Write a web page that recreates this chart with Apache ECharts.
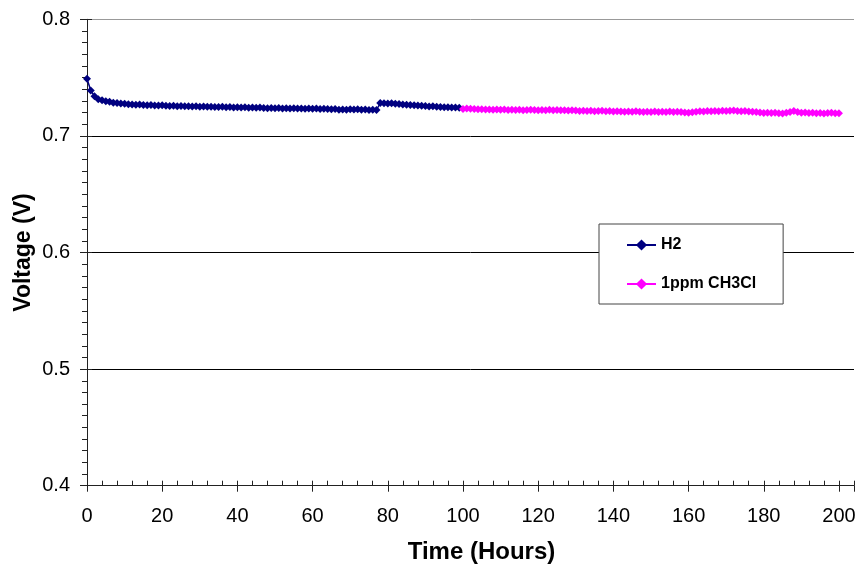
<!DOCTYPE html>
<html>
<head>
<meta charset="utf-8">
<script src="https://cdn.jsdelivr.net/npm/echarts@6/dist/echarts.min.js"></script>
<style>
html,body{margin:0;padding:0;background:#fff;}
#chart{width:858px;height:566px;}
</style>
</head>
<body>
<div id="chart"></div>
<script>
// ---- Data ----
var h2Hours = [0,1,2,3,4,5,6,7,8,9,10,11,12,13,14,15,16,17,18,19,20,21,22,23,24,25,26,27,28,29,30,31,32,33,34,35,36,37,38,39,40,41,42,43,44,45,46,47,48,49,50,51,52,53,54,55,56,57,58,59,60,61,62,63,64,65,66,67,68,69,70,71,72,73,74,75,76,77,78,79,80,81,82,83,84,85,86,87,88,89,90,91,92,93,94,95,96,97,98,99];
var h2Volts = [0.7490,0.7390,0.7340,0.7315,0.7305,0.7297,0.7292,0.7285,0.7282,0.7278,
               0.7276,0.7272,0.7270,0.7268,0.7269,0.7265,0.7263,0.7264,0.7261,0.7260,
               0.7262,0.7258,0.7257,0.7259,0.7255,0.7256,0.7254,0.7255,0.7252,0.7254,
               0.7251,0.7252,0.7249,0.7251,0.7248,0.7247,0.7249,0.7245,0.7247,0.7244,
               0.7246,0.7243,0.7245,0.7242,0.7244,0.7241,0.7243,0.7240,0.7238,0.7240,
               0.7237,0.7239,0.7236,0.7238,0.7235,0.7237,0.7234,0.7236,0.7233,0.7235,
               0.7232,0.7234,0.7231,0.7233,0.7230,0.7228,0.7230,0.7224,0.7227,0.7225,
               0.7229,0.7226,0.7228,0.7224,0.7227,0.7223,0.7225,0.7222,0.7282,0.7280,
               0.7278,0.7279,0.7275,0.7273,0.7270,0.7268,0.7266,0.7262,0.7260,0.7258,
               0.7256,0.7253,0.7254,0.7250,0.7248,0.7246,0.7245,0.7243,0.7244,0.7242];

var ch3clHours = [100,101,102,103,104,105,106,107,108,109,110,111,112,113,114,115,116,117,118,119,120,121,122,123,124,125,126,127,128,129,130,131,132,133,134,135,136,137,138,139,140,141,142,143,144,145,146,147,148,149,150,151,152,153,154,155,156,157,158,159,160,161,162,163,164,165,166,167,168,169,170,171,172,173,174,175,176,177,178,179,180,181,182,183,184,185,186,187,188,189,190,191,192,193,194,195,196,197,198,199,200];
var ch3clVolts = [0.7230,0.7234,0.7233,0.7231,0.7228,0.7229,0.7226,0.7227,0.7225,0.7227,
                  0.7224,0.7226,0.7223,0.7225,0.7222,0.7224,0.7221,0.7223,0.7225,0.7222,
                  0.7220,0.7223,0.7221,0.7224,0.7220,0.7222,0.7219,0.7221,0.7218,0.7220,
                  0.7217,0.7214,0.7216,0.7213,0.7215,0.7212,0.7214,0.7216,0.7212,0.7214,
                  0.7209,0.7212,0.7210,0.7207,0.7210,0.7208,0.7211,0.7207,0.7205,0.7208,
                  0.7206,0.7209,0.7205,0.7208,0.7206,0.7209,0.7205,0.7207,0.7204,0.7201,
                  0.7198,0.7203,0.7208,0.7212,0.7210,0.7213,0.7211,0.7214,0.7212,0.7215,
                  0.7213,0.7216,0.7217,0.7214,0.7212,0.7213,0.7210,0.7208,0.7205,0.7200,
                  0.7197,0.7199,0.7196,0.7198,0.7194,0.7193,0.7199,0.7206,0.7214,0.7204,
                  0.7199,0.7201,0.7197,0.7199,0.7194,0.7197,0.7193,0.7196,0.7198,0.7194,
                  0.7195];

var seriesNames = ['H2', '1ppm CH3Cl'];
var yTitle = 'Voltage (V)';
var xTitle = 'Time (Hours)';

function pairs(xs, ys){ var out=[]; for (var i=0;i<xs.length;i++) out.push([xs[i], ys[i]]); return out; }

var FONT = 'Liberation Sans, Arial, sans-serif';
var chart = echarts.init(document.getElementById('chart'), null, {renderer:'canvas'});
var option = {
  animation: false,
  backgroundColor: '#ffffff',
  grid: { left: 87, top: 19.3, right: 4, bottom: 80.3, containLabel: false, outerBoundsMode: 'none' },
  legend: {
    orient: 'vertical',
    left: 599, top: 224,
    padding: [13, 27, 12, 27],
    itemWidth: 29, itemHeight: 14, itemGap: 23,
    backgroundColor: '#ffffff',
    borderColor: '#444', borderWidth: 1,
    textStyle: { fontFamily: FONT, fontSize: 16, fontWeight: 'bold', color: '#000', lineHeight: 14 },
    data: seriesNames
  },
  xAxis: [{
    type: 'value', min: 0, max: 204, interval: 20,
    position: 'bottom',
    name: xTitle, nameLocation: 'middle', nameGap: 55,
    nameTextStyle: { fontFamily: FONT, fontSize: 24, fontWeight: 'bold', color: '#000', padding: [0,0,0,22] },
    axisLine: { show: true, lineStyle: { color: '#222', width: 1 } },
    axisTick: { show: true, inside: true, length: 5, lineStyle: { color: '#222' } },
    minorTick: { show: true, splitNumber: 5, length: 5, lineStyle: { color: '#222' } },
    axisLabel: { fontFamily: FONT, fontSize: 20, color: '#000', margin: 21, showMaxLabel: false },
    splitLine: { show: false }
  },{
    type: 'value', min: 0, max: 204, interval: 20,
    position: 'bottom', offset: 0,
    axisLine: { show: false },
    axisTick: { show: true, inside: false, length: 6, lineStyle: { color: '#222' } },
    axisLabel: { show: false },
    splitLine: { show: false }
  }],
  yAxis: [{
    type: 'value', min: 0.4, max: 0.8, interval: 0.1,
    position: 'left',
    name: yTitle, nameLocation: 'middle', nameGap: 52, nameRotate: 90, nameMoveOverlap: false,
    nameTextStyle: { fontFamily: FONT, fontSize: 23, fontWeight: 'bold', color: '#000' },
    axisLine: { show: true, lineStyle: { color: '#222', width: 1 } },
    axisTick: { show: true, inside: false, length: 7, lineStyle: { color: '#222' } },
    minorTick: { show: true, splitNumber: 10, length: 5, lineStyle: { color: '#222' } },
    axisLabel: { fontFamily: FONT, fontSize: 20, color: '#000', margin: 17,
                 formatter: function(v){ return v.toFixed(1); } },
    splitLine: { show: true, lineStyle: { color: ['#000','#000','#000','#000','#999'], width: 1 } }
  },{
    type: 'value', min: 0.4, max: 0.8, interval: 0.1,
    position: 'left', offset: 0,
    axisLine: { show: false },
    axisTick: { show: true, inside: true, length: 5, lineStyle: { color: '#222' } },
    axisLabel: { show: false },
    splitLine: { show: false }
  }],
  series: [{
    name: seriesNames[0], type: 'line',
    xAxisIndex: 0, yAxisIndex: 0,
    data: pairs(h2Hours, h2Volts),
    symbol: 'diamond', symbolSize: 8, showAllSymbol: true,
    lineStyle: { color: '#000080', width: 1.5 },
    itemStyle: { color: '#000080' }
  },{
    name: seriesNames[1], type: 'line',
    xAxisIndex: 0, yAxisIndex: 0,
    data: pairs(ch3clHours, ch3clVolts),
    symbol: 'diamond', symbolSize: 8, showAllSymbol: true,
    lineStyle: { color: '#FF00FF', width: 1.5 },
    itemStyle: { color: '#FF00FF' }
  }]
};
chart.setOption(option);
</script>
</body>
</html>
